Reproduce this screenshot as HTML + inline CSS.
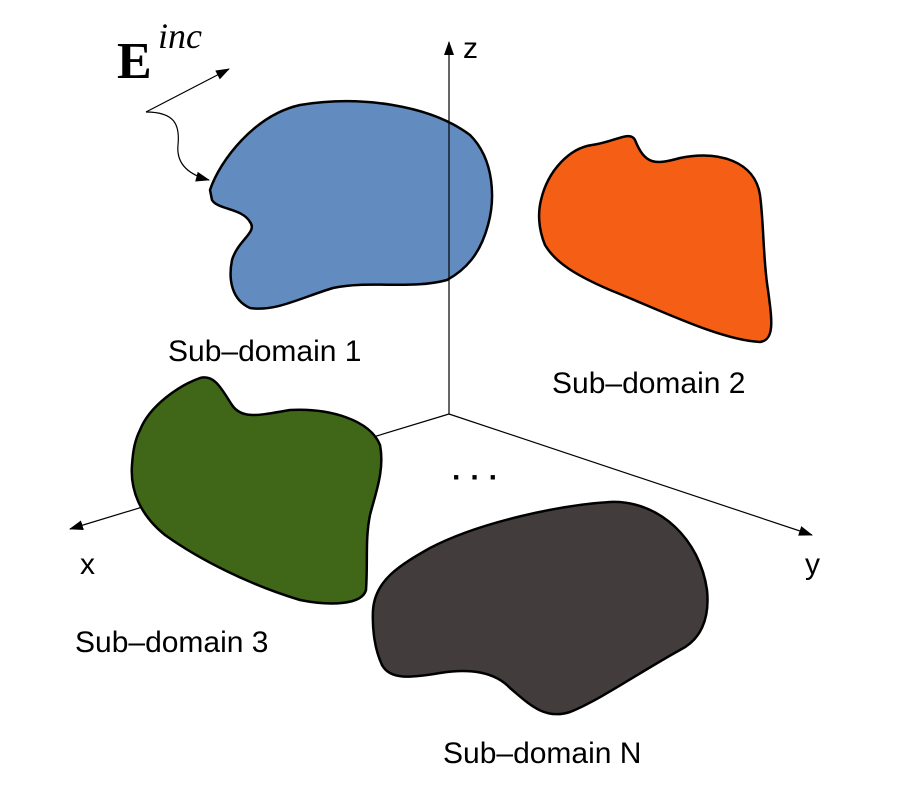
<!DOCTYPE html>
<html><head><style>body{margin:0;background:#fff}svg{display:block}</style></head><body>
<svg width="900" height="800" viewBox="0 0 900 800" xmlns="http://www.w3.org/2000/svg">
<defs><marker id="a" markerWidth="14" markerHeight="10" refX="13" refY="5" orient="auto" markerUnits="userSpaceOnUse"><path d="M0,0 L14,5 L0,10 Z" fill="#000"/></marker></defs>
<rect width="900" height="800" fill="#fff"/>
<g stroke="#000" stroke-width="1.2" fill="none">
<line x1="449" y1="414" x2="70" y2="529" marker-end="url(#a)"/>
<line x1="449" y1="414" x2="812" y2="535" marker-end="url(#a)"/>
</g>
<path d="M210,190 C220,160 255,115 300,105 C360,95 430,105 470,135 C495,160 495,200 488,225 C480,255 465,270 447,280 C410,290 370,280 333,288 C300,298 275,312 250,308 C232,300 228,280 232,260 C238,240 258,232 250,222 C242,208 218,210 212,200 Z" fill="#628bbf" stroke="#000" stroke-width="2.5"/>
<path d="M541,200 C548,170 570,148 592,145 C615,142 630,130 635,140 C645,165 655,165 680,158 C720,150 755,162 760,195 C764,225 763,260 768,290 C772,320 775,340 760,342 C720,340 660,310 610,290 C575,275 555,262 545,245 C538,228 538,212 541,200 Z" fill="#f55f15" stroke="#000" stroke-width="2.5"/>
<path d="M140,430 C150,405 180,385 200,378 C215,374 222,390 232,405 C242,420 260,415 290,410 C330,408 370,420 380,445 C385,470 375,495 370,515 C365,540 368,560 366,590 C362,605 330,606 300,600 C250,585 200,560 165,535 C140,515 130,490 132,465 C133,450 135,440 140,430 Z" fill="#3f6717" stroke="#000" stroke-width="2.5"/>
<path d="M373,610 C375,580 400,565 430,548 C480,522 560,505 610,502 C660,500 700,540 707,590 C710,620 700,640 680,650 C640,672 600,700 570,712 C545,720 530,705 510,688 C495,672 470,668 440,673 C410,678 390,680 382,665 C375,650 372,630 373,610 Z" fill="#433c3d" stroke="#000" stroke-width="2.5"/>
<g stroke="#000" stroke-width="1.2" fill="none">
<line x1="449" y1="414" x2="449" y2="42" marker-end="url(#a)"/>
<path d="M146,112 L229,69" marker-end="url(#a)"/>
<path d="M146,112 C175,112 180,125 178,145 C176,165 190,175 209,180" marker-end="url(#a)"/>
</g>
<g font-family="Liberation Sans, sans-serif" font-size="30" fill="#000">
<text x="463" y="58">z</text>
<text x="80" y="574">x</text>
<text x="805" y="574">y</text>
<text x="168" y="361">Sub–domain 1</text>
<text x="552" y="393">Sub–domain 2</text>
<text x="75" y="652">Sub–domain 3</text>
<text x="443" y="763">Sub–domain N</text>
<text x="452" y="487" font-size="30" font-weight="bold">· · ·</text>
</g>
<text x="117" y="78" font-family="Liberation Serif, serif" font-weight="bold" font-size="52">E</text>
<text x="158" y="48" font-family="Liberation Serif, serif" font-style="italic" font-size="36">inc</text>
</svg>
</body></html>
